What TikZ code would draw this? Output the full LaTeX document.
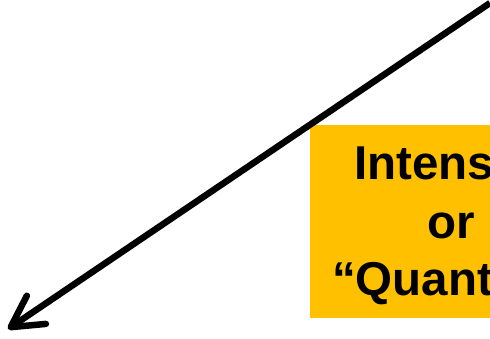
\documentclass[tikz,border=0pt]{standalone}
\usepackage{fontspec}
\setmainfont{Liberation Sans}
\usetikzlibrary{arrows.meta}
\definecolor{boxyellow}{HTML}{FFC000}
\tikzset{
  lbl/.style={anchor=base west, inner sep=0pt, font=\fontsize{47.5}{57}\selectfont\bfseries},
  bigarrow/.style={line width=6.5pt, -{Straight Barb[length=31pt,width=34pt,line cap=round,line join=round]}}
}
\begin{document}
\begin{tikzpicture}[x=1pt,y=-1pt]
\useasboundingbox (0,0) rectangle (490,338);
\clip (0,0) rectangle (490,338);
\fill[boxyellow] (310,125) rectangle (600,318);
\node[lbl] (l1) at (354,179) {Intens};
\node[lbl] (l2) at (427,238) {or};
\node[lbl] (l3) at (332,295) {“Quant};
\coordinate (s) at (490,3);
\coordinate (e) at (8,329);
\draw[bigarrow] (s) -- (e);
\end{tikzpicture}
\end{document}
